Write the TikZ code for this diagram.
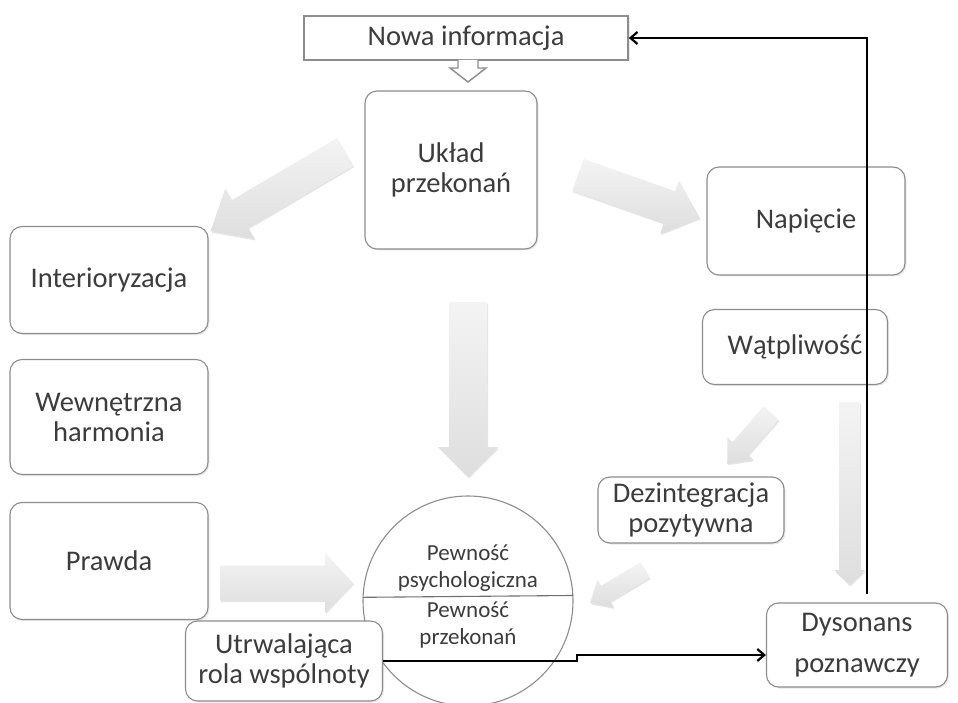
\documentclass[tikz,border=0pt]{standalone}
\usepackage{fontspec}
\setmainfont{Carlito}
\usetikzlibrary{arrows.meta,shadows}
\definecolor{txt}{HTML}{3C3C3C}
\definecolor{rim}{HTML}{8C8C8C}

% fat gray block arrow: tail x, tail y, angle, length, shaft half width, head half width, head length
\newcommand\fatarrow[7]{%
  \begin{scope}[shift={(#1,#2)}, rotate=#3]
    \path[fatbody] (0,-#5) -- ({#4-#7},-#5) -- ({#4-#7},-#6) -- (#4,0)
      -- ({#4-#7},#6) -- ({#4-#7},#5) -- (0,#5) -- cycle;
  \end{scope}}

\tikzset{
  card/.style={draw=rim, line width=1.1pt, fill=white, rounded corners=12pt,
    align=center, text=txt, font=\fontsize{28.5}{30}\selectfont,
    drop shadow={opacity=0.18, shadow xshift=1.5pt, shadow yshift=-1.5pt}},
  fatbody/.style={top color=gray!9, bottom color=gray!26, draw=none,
    drop shadow={opacity=0.2, shadow xshift=1pt, shadow yshift=-1.5pt}},
  conn/.style={line width=2.8pt, black, -{Straight Barb[length=7pt,width=12pt,line width=2.2pt]}},
  small/.style={text=txt, font=\fontsize{23}{27}\selectfont, align=center}
}

\begin{document}
\begin{tikzpicture}[x=1pt,y=-1pt]
\useasboundingbox[fill=white] (0,0) rectangle (958,703);

% header box with its hollow down arrow
\node[draw=rim, line width=1.6pt, fill=white, minimum width=324pt, minimum height=44pt,
  text=txt, font=\fontsize{28.5}{30}\selectfont,
  drop shadow={opacity=0.15, shadow xshift=1.5pt, shadow yshift=-1.5pt}]
  (nowa) at (466,38) {Nowa informacja};
\draw[rim, line width=1.4pt, fill=white] (458,60) -- (458,68) -- (450,68) -- (468,82)
  -- (486,68) -- (478,68) -- (478,60);

% boxes
\node[card, minimum width=172pt, minimum height=158pt] (uklad) at (451,170) {Układ\\przekonań};
\node[card, minimum width=198pt, minimum height=108pt] (napiecie) at (806,221) {Napięcie};
\node[card, minimum width=198pt, minimum height=107pt] (interior) at (109,280) {Interioryzacja};
\node[card, minimum width=198pt, minimum height=115pt] (harmonia) at (109,417) {Wewnętrzna\\harmonia};
\node[card, minimum width=198pt, minimum height=117pt] (prawda) at (109,561) {Prawda};
\node[card, minimum width=185pt, minimum height=75pt] (watpl) at (795,347) {Wątpliwość};
\node[card, minimum width=186pt, minimum height=66pt] (dezint) at (691,510) {Dezintegracja\\pozytywna};
\node[card, minimum width=181pt, minimum height=84pt] (dyson) at (857,645) {Dysonans\\[11pt]poznawczy};

% central circle
\node[circle, draw=rim, line width=1.1pt, fill=white, minimum size=210pt] (circ) at (468,601) {};
\draw[rim!80!black, line width=1.1pt] (circ.178.4) -- (circ.3.3);
\node[small] (psych) at (468,568) {Pewność\\psychologiczna};
\node[small] (przek) at (468,625) {Pewność\\przekonań};

\node[card, minimum width=197pt, minimum height=80pt] (utrw) at (284,661) {Utrwalająca\\rola wspólnoty};

% fat gray arrows
\fatarrow{345}{152}{210.5}{156}{16}{29}{34}
\fatarrow{578}{175}{-19.4}{129}{17}{28}{32}
\fatarrow{468}{302}{-90}{175}{19}{30}{30}
\fatarrow{220}{583}{0}{133}{17.5}{30}{28}
\fatarrow{771}{413}{-130.8}{67}{10}{17}{20}
\fatarrow{645}{570}{-149}{64}{9}{16}{18}
\fatarrow{849.5}{402}{-90}{183}{10.5}{15.5}{15}

% black connectors
\coordinate (ret) at (867,38);
\draw[conn] ([yshift=8pt]dyson.north -| ret) -- (ret) -- (nowa.east);
\coordinate (jog) at (577,655);
\draw[conn] (utrw.east) -| (jog) -- (jog -| dyson.west);
\end{tikzpicture}
\end{document}
